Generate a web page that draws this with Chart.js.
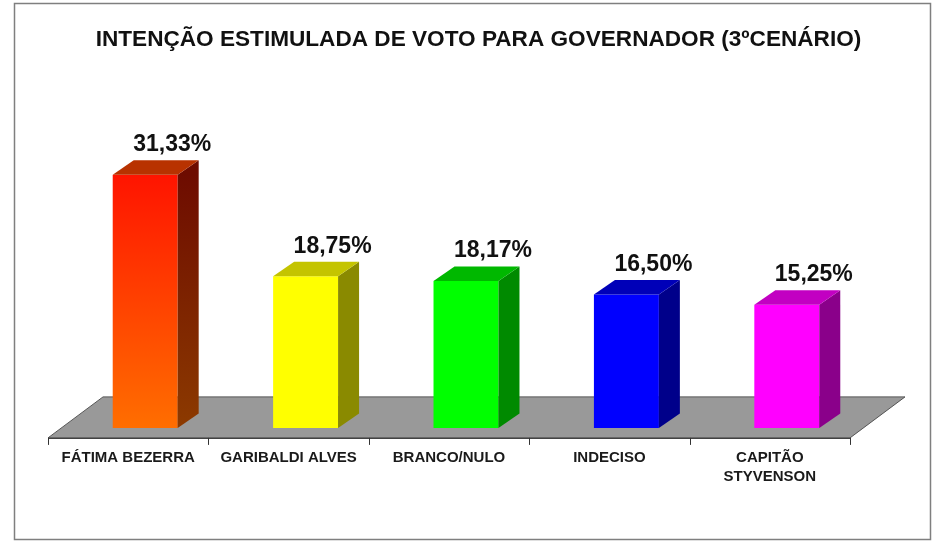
<!DOCTYPE html>
<html lang="pt-BR">
<head>
  <meta charset="UTF-8" />
  <title>Intenção estimulada de voto</title>
  <script src="https://cdn.jsdelivr.net/npm/chart.js"></script>
  <style>
    body {
      margin: 0;
      background: #ffffff;
    }
    #voteChart {
      display: block;
    }
  </style>
</head>
<body>
  <canvas id="voteChart" width="951" height="550"></canvas>

  <script>
    const chartTitle = "INTENÇÃO ESTIMULADA DE VOTO PARA GOVERNADOR (3ºCENÁRIO)";
    const candidates = ["FÁTIMA BEZERRA", "GARIBALDI ALVES", "BRANCO/NULO", "INDECISO", ["CAPITÃO", "STYVENSON"]];
    const percentages = [31.33, 18.75, 18.17, 16.50, 15.25];
    const frontColors = ["#ff1a00", "#ffff00", "#00ff00", "#0000ff", "#ff00ff"];
    const sideColors = ["#7a1400", "#8a8a00", "#008a00", "#00008a", "#8a008a"];
    const topColors = ["#b83200", "#c4c400", "#00b800", "#0000b8", "#c200c2"];

    const FONT = "Arial, 'Liberation Sans', sans-serif";
    const SHIFT = 17;   // bars sit a bit right of the category centre
    const DX = 21, DY = 14.5;

    function formatPct(v) {
      return v.toFixed(2).replace(".", ",") + "%";
    }

    // outer frame + title (title centred on the frame, not on the plot area)
    const frame = {
      id: "frame",
      beforeDraw(chart) {
        const ctx = chart.ctx;
        ctx.save();
        ctx.strokeStyle = "#7f7f7f";
        ctx.lineWidth = 1.5;
        ctx.strokeRect(14.5, 3.5, 916, 536);
        ctx.fillStyle = "#111111";
        ctx.font = "bold 22.6px " + FONT;
        ctx.textAlign = "center";
        ctx.textBaseline = "middle";
        ctx.fillText(chartTitle, 478.5, 40);
        ctx.restore();
      }
    };

    const floor3d = {
      id: "floor3d",
      beforeDatasetsDraw(chart) {
        const { ctx, chartArea } = chart;
        const l = chartArea.left - SHIFT, r = chartArea.right - SHIFT;
        const front = chartArea.bottom + 10, back = chartArea.bottom - 31;
        ctx.save();
        ctx.beginPath();
        ctx.moveTo(l, front);
        ctx.lineTo(l + 55, back);
        ctx.lineTo(r + 55, back);
        ctx.lineTo(r, front);
        ctx.closePath();
        ctx.fillStyle = "#999999";
        ctx.fill();
        ctx.strokeStyle = "#555555";
        ctx.lineWidth = 1;
        ctx.stroke();

        // axis line with ticks at category boundaries
        const step = (chartArea.right - chartArea.left) / candidates.length;
        ctx.beginPath();
        ctx.strokeStyle = "#333333";
        ctx.moveTo(l, front + 0.5);
        ctx.lineTo(r, front + 0.5);
        for (let i = 0; i <= candidates.length; i++) {
          const tx = Math.round(l + i * step) + 0.5;
          ctx.moveTo(tx, front);
          ctx.lineTo(tx, front + 7);
        }
        ctx.stroke();
        ctx.restore();
      }
    };

    const bars3d = {
      id: "bars3d",
      afterDatasetsDraw(chart) {
        const ctx = chart.ctx;
        const meta = chart.getDatasetMeta(0);
        ctx.save();
        meta.data.forEach((bar, i) => {
          const { x, y, base, width } = bar.getProps(["x", "y", "base", "width"], true);
          const left = x - width / 2, right = x + width / 2;

          // side face
          let side = sideColors[i];
          if (i === 0) {
            side = ctx.createLinearGradient(0, y, 0, base);
            side.addColorStop(0, "#6e0c00");
            side.addColorStop(1, "#8c3a00");
          }
          ctx.beginPath();
          ctx.moveTo(right, y);
          ctx.lineTo(right + DX, y - DY);
          ctx.lineTo(right + DX, base - DY);
          ctx.lineTo(right, base);
          ctx.closePath();
          ctx.fillStyle = side;
          ctx.fill();

          // top face
          ctx.beginPath();
          ctx.moveTo(left, y);
          ctx.lineTo(left + DX, y - DY);
          ctx.lineTo(right + DX, y - DY);
          ctx.lineTo(right, y);
          ctx.closePath();
          ctx.fillStyle = topColors[i];
          ctx.fill();

          // value label
          ctx.fillStyle = "#111111";
          ctx.font = "bold 23px " + FONT;
          ctx.textAlign = "center";
          ctx.textBaseline = "middle";
          ctx.fillText(formatPct(percentages[i]), x + 27, y - 30);
        });
        ctx.restore();
      }
    };

    function frontFill(context) {
      const i = context.dataIndex;
      if (i !== 0) return frontColors[i];
      const chart = context.chart;
      if (!chart.chartArea) return frontColors[0];
      const ys = chart.scales.y;
      const g = chart.ctx.createLinearGradient(0, ys.getPixelForValue(percentages[0]), 0, ys.getPixelForValue(0));
      g.addColorStop(0, "#ff1400");
      g.addColorStop(1, "#ff6e00");
      return g;
    }

    new Chart(document.getElementById("voteChart"), {
      type: "bar",
      data: {
        labels: candidates,
        datasets: [{
          data: percentages,
          backgroundColor: frontFill,
          borderWidth: 0,
          barPercentage: 0.405,
          categoryPercentage: 1
        }]
      },
      options: {
        responsive: false,
        animation: false,
        layout: {
          padding: { top: 145, left: 65, right: 84, bottom: 44 }
        },
        plugins: {
          legend: { display: false },
          tooltip: { enabled: false },
          title: { display: false }
        },
        scales: {
          x: {
            grid: { display: false, drawTicks: false },
            border: { display: false },
            ticks: {
              color: "#1a1a1a",
              font: { family: FONT, size: 15, weight: "bold", lineHeight: 1.27 },
              padding: 20,
              labelOffset: -SHIFT,
              maxRotation: 0,
              autoSkip: false
            }
          },
          y: {
            display: false,
            min: 0,
            max: 35
          }
        }
      },
      plugins: [frame, floor3d, bars3d]
    });
  </script>
</body>
</html>
